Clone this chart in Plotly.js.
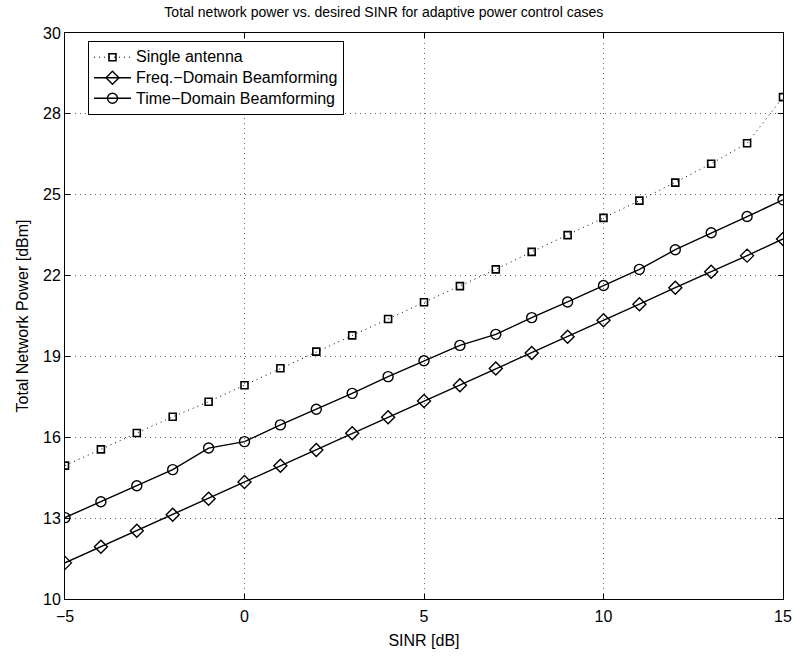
<!DOCTYPE html>
<html>
<head>
<meta charset="utf-8">
<script src="https://cdn.plot.ly/plotly-3.0.1.min.js"></script>
<style>html,body{margin:0;padding:0;background:#fff;}#chart{width:793px;height:659px;}</style>
</head>
<body>
<div id="chart"></div>
<script>
const sinr = [-5,-4,-3,-2,-1,0,1,2,3,4,5,6,7,8,9,10,11,12,13,14,15];
const singleAntenna = [14.95,15.55,16.16,16.76,17.32,17.93,18.56,19.18,19.78,20.39,21.01,21.61,22.23,22.88,23.50,24.14,24.78,25.45,26.15,26.91,28.62];
const freqBF = [11.34,11.94,12.53,13.13,13.72,14.34,14.94,15.53,16.15,16.74,17.35,17.93,18.55,19.13,19.73,20.34,20.94,21.55,22.14,22.74,23.36];
const timeBF = [13.02,13.61,14.20,14.80,15.60,15.84,16.46,17.04,17.63,18.25,18.84,19.41,19.82,20.44,21.02,21.63,22.23,22.96,23.59,24.19,24.81];
const yTickVals = [10,13,16,19,22,25,28,31];
const yTickText = ['10','13','16','19','22','25','28','30'];
const xTickVals = [-5,0,5,10,15];
const seriesNames = ['Single antenna', 'Freq.\u2212Domain Beamforming', 'Time\u2212Domain Beamforming'];

const font = 'Liberation Sans, Arial, Helvetica, sans-serif';
const lg = s => '<span style="font-size:16px">' + s + '</span>';
const traces = [
  {x: sinr, y: singleAntenna, name: lg(seriesNames[0]), mode: 'lines+markers',
   line: {color: '#000', width: 1, dash: '1px,4px'},
   marker: {symbol: 'square-open', size: 7, color: '#000', line: {width: 1.6, color: '#000'}}},
  {x: sinr, y: freqBF, name: lg(seriesNames[1]), mode: 'lines+markers',
   line: {color: '#000', width: 1.4},
   marker: {symbol: 'diamond-open', size: 10, color: '#000', line: {width: 1.4, color: '#000'}}},
  {x: sinr, y: timeBF, name: lg(seriesNames[2]), mode: 'lines+markers',
   line: {color: '#000', width: 1.4},
   marker: {symbol: 'circle-open', size: 10, color: '#000', line: {width: 1.4, color: '#000'}}}
];
const axisCommon = {
  showline: true, mirror: 'ticks', linecolor: '#000', linewidth: 1,
  ticks: 'inside', ticklen: 5, tickcolor: '#000',
  showgrid: true, gridcolor: '#666', griddash: '1px,4px', gridwidth: 1,
  zeroline: false, tickfont: {family: font, size: 16, color: '#000'}
};
const layout = {
  width: 793, height: 659,
  margin: {l: 65, r: 10, t: 33, b: 60},
  paper_bgcolor: '#fff', plot_bgcolor: '#fff',
  title: {text: 'Total network power vs. desired SINR for adaptive power control cases',
          font: {family: font, size: 14, color: '#000'}, x: 0.484, xanchor: 'center', xref: 'container', y: 0.982, yanchor: 'middle'},
  xaxis: Object.assign({}, axisCommon, {range: [-5, 15], tickvals: xTickVals, ticklabelstandoff: 3,
          title: {text: 'SINR [dB]', font: {family: font, size: 16, color: '#000'}, standoff: 10}}),
  yaxis: Object.assign({}, axisCommon, {range: [10, 31], tickvals: yTickVals, ticktext: yTickText, ticklabelstandoff: 0,
          title: {text: 'Total Network Power [dBm]', font: {family: font, size: 16, color: '#000'}, standoff: 10}}),
  showlegend: true,
  legend: {x: 0.032, y: 0.986, xanchor: 'left', yanchor: 'top',
           bgcolor: '#fff', bordercolor: '#000', borderwidth: 1,
           font: {family: font, size: 13.5, color: '#000'}, tracegroupgap: 0, itemwidth: 37}
};
Plotly.newPlot('chart', traces, layout, {displayModeBar: false, staticPlot: true});
</script>
</body>
</html>
